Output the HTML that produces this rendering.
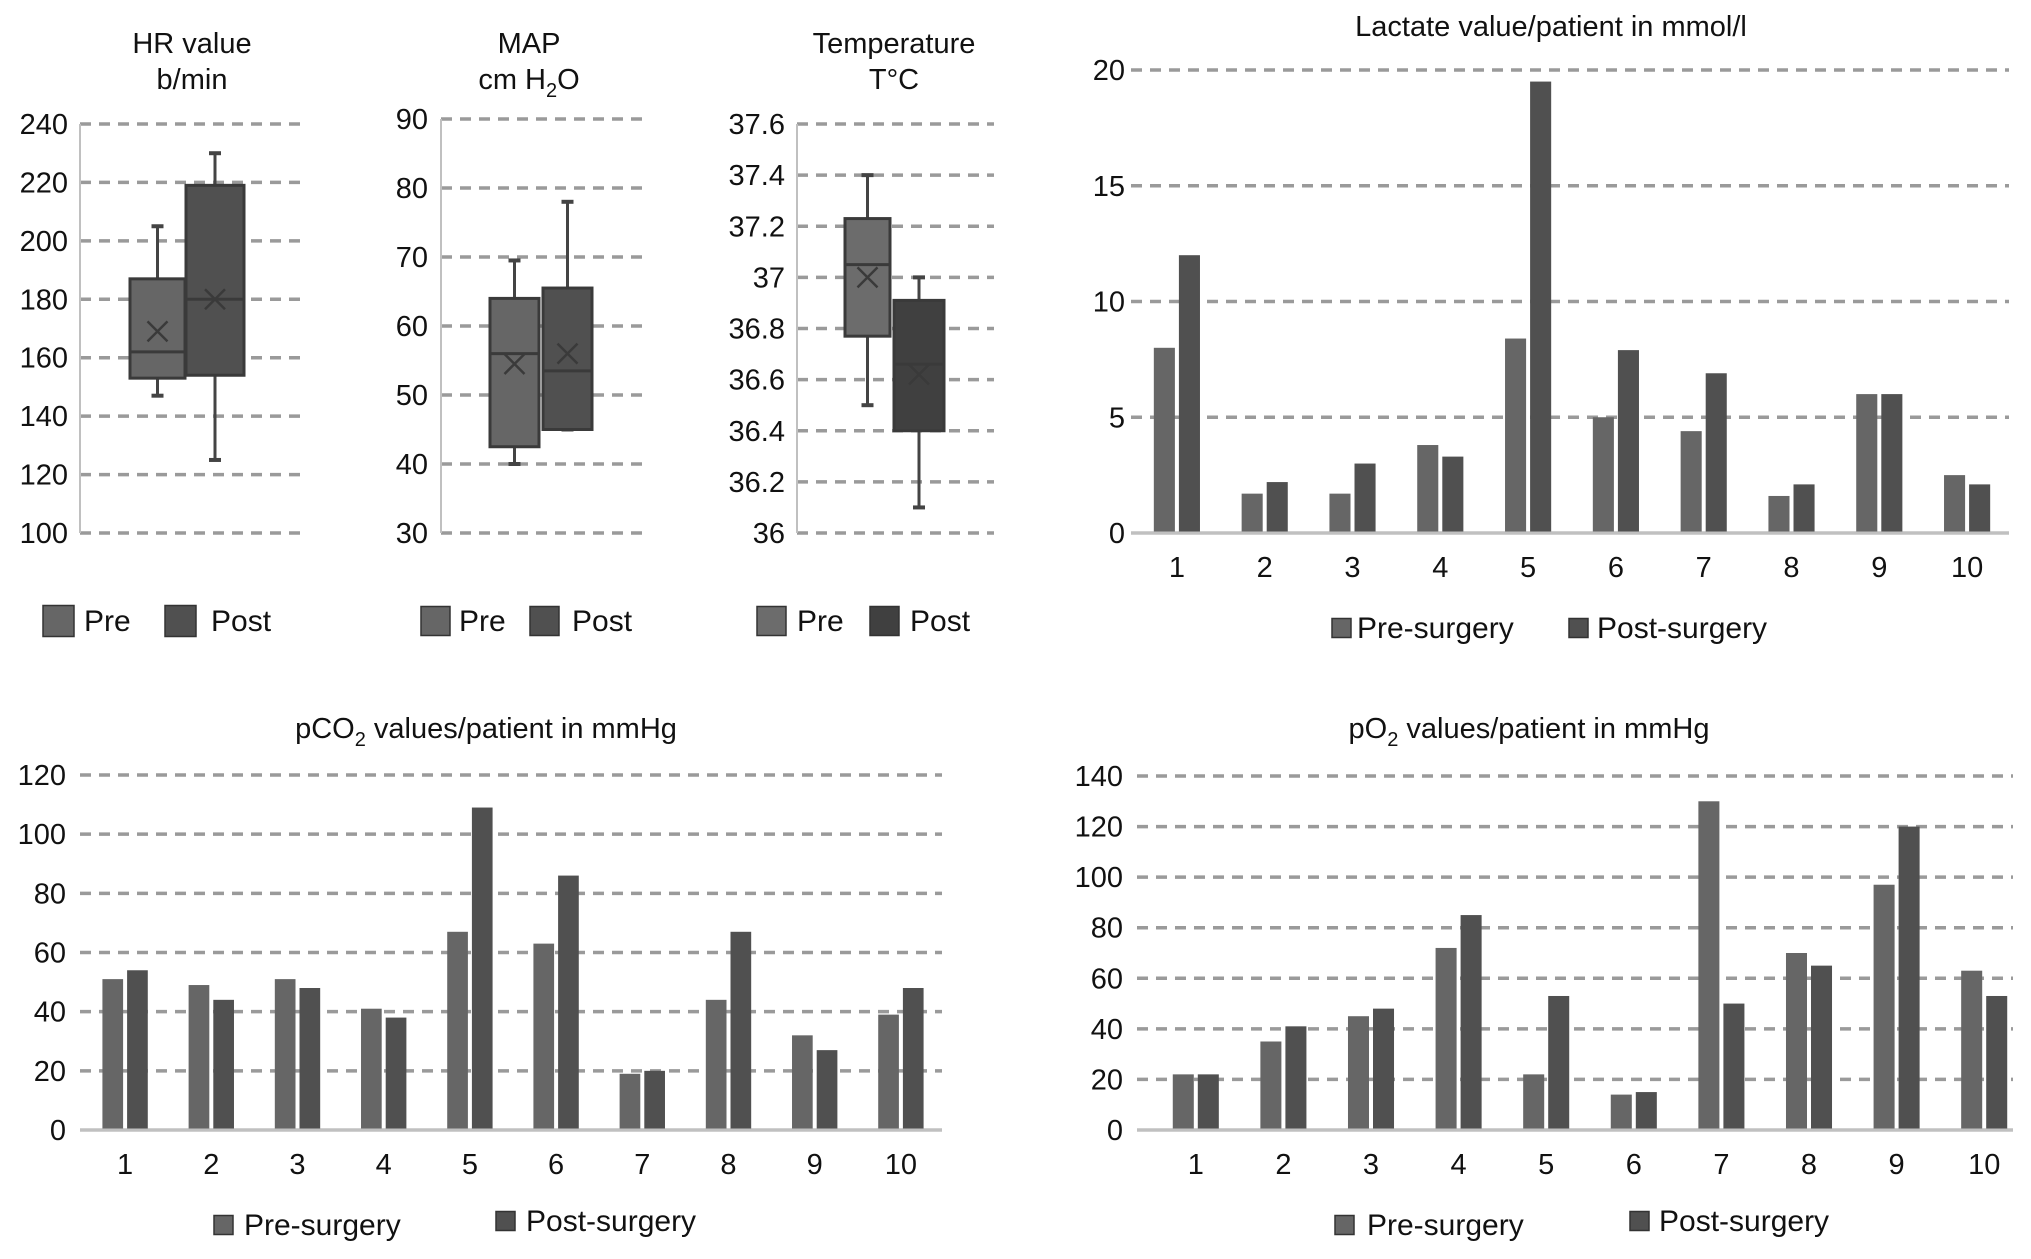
<!DOCTYPE html>
<html><head><meta charset="utf-8"><style>
html,body{margin:0;padding:0;background:#fff}
svg{display:block;font-family:"Liberation Sans",sans-serif}
</style></head><body>
<svg id="c" width="2031" height="1259" viewBox="0 0 2031 1259" xmlns="http://www.w3.org/2000/svg"></svg>
<script>
// ---- Box plot data ----
const hrPre = [147, 153, 162, 187, 205, 169];   // min,q1,median,q3,max,mean
const hrPost = [125, 154, 180, 219, 230, 180];
const mapPre = [40, 42.5, 56, 64, 69.5, 54.5];
const mapPost = [45, 45, 53.5, 65.5, 78, 56];
const tempPre = [36.5, 36.77, 37.05, 37.23, 37.4, 37.0];
const tempPost = [36.1, 36.4, 36.66, 36.91, 37.0, 36.62];
const hrTicks = ["100","120","140","160","180","200","220","240"];
const mapTicks = ["30","40","50","60","70","80","90"];
const tempTicks = ["36","36.2","36.4","36.6","36.8","37","37.2","37.4","37.6"];
// ---- Bar chart data ----
const patients = ["1","2","3","4","5","6","7","8","9","10"];
const lactatePre = [8, 1.7, 1.7, 3.8, 8.4, 5, 4.4, 1.6, 6, 2.5];
const lactatePost = [12, 2.2, 3, 3.3, 19.5, 7.9, 6.9, 2.1, 6, 2.1];
const lactateTicks = ["0","5","10","15","20"];
const pco2Pre = [51, 49, 51, 41, 67, 63, 19, 44, 32, 39];
const pco2Post = [54, 44, 48, 38, 109, 86, 20, 67, 27, 48];
const pco2Ticks = ["0","20","40","60","80","100","120"];
const po2Pre = [22, 35, 45, 72, 22, 14, 130, 70, 97, 63];
const po2Post = [22, 41, 48, 85, 53, 15, 50, 65, 120, 53];
const po2Ticks = ["0","20","40","60","80","100","120","140"];

const svg = document.getElementById('c');
const NS = 'http://www.w3.org/2000/svg';
function mk(tag, attrs, parent, text){
  const e = document.createElementNS(NS, tag);
  for (const k in attrs) e.setAttribute(k, attrs[k]);
  if (text !== undefined) e.textContent = text;
  (parent || svg).appendChild(e);
  return e;
}
const PRE = '#666', POST = '#505050', GRID = '#9a9a9a', TXT = '#111';

function yAxis(g, ticks, x0, x1, y0, y1, labelX){
  const min = +ticks[0], max = +ticks[ticks.length-1];
  const sy = v => y0 - (v - min) / (max - min) * (y0 - y1);
  ticks.forEach((t, i) => {
    const y = sy(+t);
    const ln = mk('line', {x1:x0, x2:x1, y1:y, y2:y, stroke: i===0 && g.bar ? '#c0c0c0' : GRID, 'stroke-width':3.5, 'stroke-dasharray': i===0 && g.bar ? 'none' : '11 8'}, g.el);
    
    
    const tx = mk('text', {x:labelX, y:y+10, 'text-anchor':'end', 'font-size':29, fill:TXT}, g.el, t);
    
    
  });
  return sy;
}

function legend(g, items){
  items.forEach(it => {
    const lg = mk('g', {}, g.el);
    
    
    mk('rect', {x:it.sx, y:it.y-it.s/2, width:it.s, height:it.s, fill:it.c, stroke:'#333', 'stroke-width':1.5}, lg);
    mk('text', {x:it.tx, y:it.y+10, 'font-size':30, fill:TXT}, lg, it.t);
  });
}

function boxChart(name, title, ticks, pre, post, L){
  const el = mk('g', {});  
  const g = {el, bar:false};
  title.forEach((t, i) => {
    const tt = mk('text', {x:L.tc, y:[43+10, 79+10][i], 'text-anchor':'middle', 'font-size':29, fill:TXT}, el);
    
    
    tt.innerHTML = t;
  });
  const sy = yAxis(g, ticks, L.ax, L.gx, 533, L.top, L.lx);
  mk('line', {x1:L.ax, x2:L.ax, y1:L.top, y2:533, stroke:'#c0c0c0', 'stroke-width':2}, el);
  [[pre, L.b1, L.c1, 'box-pre'], [post, L.b2, L.c2, 'box-post']].forEach(([d, bx, col, nm]) => {
    const bg = mk('g', {}, el);
    
    
    const cx = (bx[0]+bx[1])/2;
    mk('line', {x1:cx, x2:cx, y1:sy(d[0]), y2:sy(d[4]), stroke:'#444', 'stroke-width':3}, bg);
    mk('line', {x1:cx-6, x2:cx+6, y1:sy(d[0]), y2:sy(d[0]), stroke:'#444', 'stroke-width':4}, bg);
    mk('line', {x1:cx-6, x2:cx+6, y1:sy(d[4]), y2:sy(d[4]), stroke:'#444', 'stroke-width':4}, bg);
    mk('rect', {x:bx[0], y:sy(d[3]), width:bx[1]-bx[0], height:sy(d[1])-sy(d[3]), fill:col, stroke:'#3a3a3a', 'stroke-width':3}, bg);
    mk('line', {x1:bx[0], x2:bx[1], y1:sy(d[2]), y2:sy(d[2]), stroke:'#3a3a3a', 'stroke-width':3}, bg);
    const my = sy(d[5]);
    mk('path', {d:`M${cx-10},${my-10}L${cx+10},${my+10}M${cx+10},${my-10}L${cx-10},${my+10}`, stroke:'#3a3a3a', 'stroke-width':2.5, fill:'none'}, bg);
  });
  legend(g, L.leg);
}

boxChart('hr-boxplot', ['HR value','b/min'], hrTicks, hrPre, hrPost,
  {tc:192, ax:80, gx:301, top:124, lx:68, b1:[130,185], b2:[186,244], c1:PRE, c2:POST,
   leg:[{sx:43,s:31,y:621,c:PRE,tx:84,t:'Pre'},{sx:165,s:31,y:621,c:POST,tx:211,t:'Post'}]});
boxChart('map-boxplot', ['MAP','cm H<tspan font-size="20" dy="8">2</tspan><tspan dy="-8">O</tspan>'], mapTicks, mapPre, mapPost,
  {tc:529, ax:441, gx:644, top:119, lx:428, b1:[490,539], b2:[543,592], c1:PRE, c2:POST,
   leg:[{sx:421,s:29,y:621,c:PRE,tx:459,t:'Pre'},{sx:530,s:29,y:621,c:POST,tx:572,t:'Post'}]});
boxChart('temperature-boxplot', ['Temperature','T°C'], tempTicks, tempPre, tempPost,
  {tc:894, ax:797, gx:994, top:124, lx:785, b1:[845,890], b2:[894,944], c1:'#6c6c6c', c2:'#404040',
   leg:[{sx:757,s:29,y:621,c:'#6c6c6c',tx:797,t:'Pre'},{sx:870,s:29,y:621,c:'#404040',tx:910,t:'Post'}]});

function barChart(name, titleHTML, ticks, pre, post, L){
  const el = mk('g', {});  
  const g = {el, bar:true};
  const tt = mk('text', {x:L.tc, y:L.ty, 'text-anchor':'middle', 'font-size':29, fill:TXT}, el);
  
  
  tt.innerHTML = titleHTML;
  const sy = yAxis(g, ticks, L.x0, L.x1, L.y0, L.y1, L.lx);
  const band = (L.x1 - L.x0) / patients.length;
  const bw = band * 0.24;
  const off = L.off || 0;
  patients.forEach((p, i) => {
    const cx = L.x0 + band * (i + 0.5) + 2 + off;
    const r1 = mk('rect', {x:cx-bw-2, y:sy(pre[i]), width:bw, height:L.y0-sy(pre[i]), fill:PRE}, el);
    
    
    const r2 = mk('rect', {x:cx+2, y:sy(post[i]), width:bw, height:L.y0-sy(post[i]), fill:POST}, el);
    
    
    const xl = mk('text', {x:cx, y:L.y0+44, 'text-anchor':'middle', 'font-size':29, fill:TXT}, el, p);
    
    
  });
  mk('line', {x1:L.x0, x2:L.x1, y1:L.y0, y2:L.y0, stroke:'#c0c0c0', 'stroke-width':3}, el);
  legend(g, L.leg);
}

barChart('lactate-bar-chart', 'Lactate value/patient in mmol/l', lactateTicks, lactatePre, lactatePost,
  {tc:1551, ty:36, x0:1131, x1:2009, y0:533, y1:70, lx:1125,
   leg:[{sx:1332,s:19,y:628,c:PRE,tx:1357,t:'Pre-surgery'},{sx:1569,s:19,y:628,c:POST,tx:1597,t:'Post-surgery'}]});
barChart('pco2-bar-chart', 'pCO<tspan font-size="20" dy="8">2</tspan><tspan dy="-8"> values/patient in mmHg</tspan>', pco2Ticks, pco2Pre, pco2Post,
  {tc:486, ty:738, x0:80, x1:942, y0:1130, y1:775, lx:66,
   leg:[{sx:214,s:19,y:1225,c:PRE,tx:244,t:'Pre-surgery'},{sx:496,s:19,y:1221,c:POST,tx:526,t:'Post-surgery'}]});
barChart('po2-bar-chart', 'pO<tspan font-size="20" dy="8">2</tspan><tspan dy="-8"> values/patient in mmHg</tspan>', po2Ticks, po2Pre, po2Post,
  {tc:1529, ty:738, x0:1137, x1:2013, y0:1130, y1:776, lx:1123, off:13,
   leg:[{sx:1335,s:19,y:1225,c:PRE,tx:1367,t:'Pre-surgery'},{sx:1630,s:19,y:1221,c:POST,tx:1659,t:'Post-surgery'}]});
</script>
</body></html>
